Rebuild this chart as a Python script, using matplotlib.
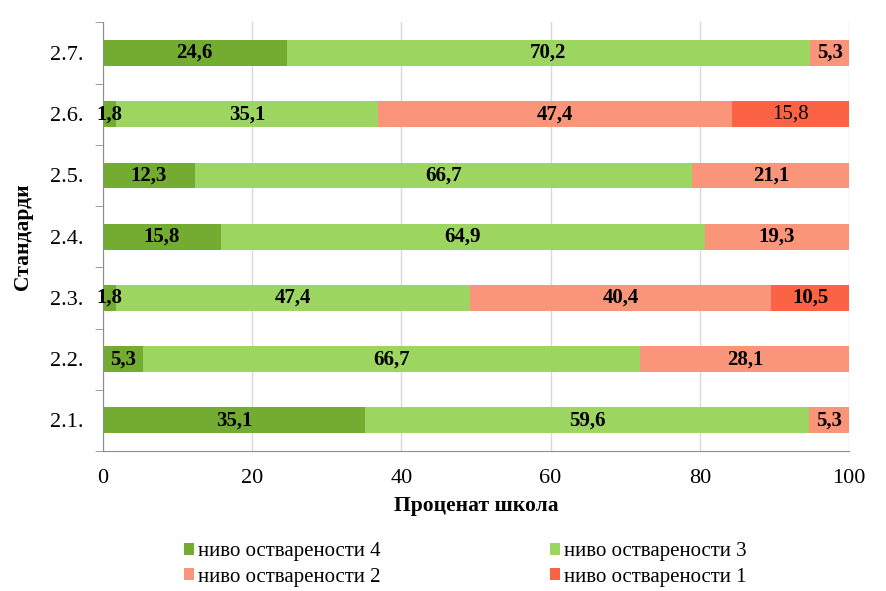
import numpy as np
import matplotlib
matplotlib.use('Agg')
import matplotlib.pyplot as plt

plt.rcParams['font.family'] = ['Liberation Serif', 'DejaVu Serif']

# standards, bottom to top
categories = ['2.1.', '2.2.', '2.3.', '2.4.', '2.5.', '2.6.', '2.7.']
level4 = [35.1, 5.3, 1.8, 15.8, 12.3, 1.8, 24.6]
level3 = [59.6, 66.7, 47.4, 64.9, 66.7, 35.1, 70.2]
level2 = [5.3, 28.1, 40.4, 19.3, 21.1, 47.4, 5.3]
level1 = [0, 0, 10.5, 0, 0, 15.8, 0]
series_names = ['ниво остварености 4', 'ниво остварености 3',
                'ниво остварености 2', 'ниво остварености 1']
colors = ['#74AC32', '#9DD561', '#FB957A', '#FA6445']

fig = plt.figure(figsize=(8.86, 5.91), dpi=100)
ax = fig.add_axes([0.1163, 0.2370, 0.8419, 0.7250])

y = np.arange(len(categories))
left = np.zeros(len(categories))
bars = []
for vals, name, col in zip([level4, level3, level2, level1], series_names, colors):
    vals = np.array(vals)
    b = ax.barh(y, vals, left=left, height=0.42, color=col, label=name, zorder=2)
    bars.append(b)
    for i, v in enumerate(vals):
        if v <= 0:
            continue
        # the one label for 2.6. level 1 is not bold in the original
        weight = 'normal' if (name.endswith('1') and categories[i] == '2.6.') else 'bold'
        ax.text(left[i] + v / 2, y[i], f'{v:.1f}'.replace('.', ','),
                ha='center', va='center', fontsize=15, fontweight=weight,
                color='black', zorder=3, clip_on=False)
    left = left + vals

ax.set_xlim(0, 100)
ax.set_ylim(-0.5, len(categories) - 0.5)
ax.set_xticks([0, 20, 40, 60, 80, 100])
ax.set_yticks(y)
ax.set_yticklabels(categories)
ax.set_yticks(np.arange(-0.5, len(categories), 1), minor=True)
ax.tick_params(axis='y', which='major', length=0, labelsize=16, pad=14)
ax.tick_params(axis='y', which='minor', length=6, color='#8c8c8c', direction='out')
ax.tick_params(axis='x', length=0, labelsize=16, pad=13)
ax.grid(axis='x', color='#d9d9d9', linewidth=1, zorder=0)
ax.set_axisbelow(True)
for s in ['top', 'right']:
    ax.spines[s].set_visible(False)
for s in ['left', 'bottom']:
    ax.spines[s].set_color('#8c8c8c')

ax.set_xlabel('Проценат школа', fontsize=15.5, fontweight='bold', labelpad=6)
ax.set_ylabel('Стандарди', fontsize=15.5, fontweight='bold', labelpad=12)

handles = [bars[0], bars[2], bars[1], bars[3]]
labels = [series_names[0], series_names[2], series_names[1], series_names[3]]
fig.legend(handles, labels, ncol=2, loc='center', bbox_to_anchor=(0.525, 0.045),
           frameon=False, fontsize=15, handlelength=0.5, handleheight=0.5,
           handletextpad=0.2, columnspacing=8.1, labelspacing=0.3)

fig.savefig('out.png', dpi=100)
